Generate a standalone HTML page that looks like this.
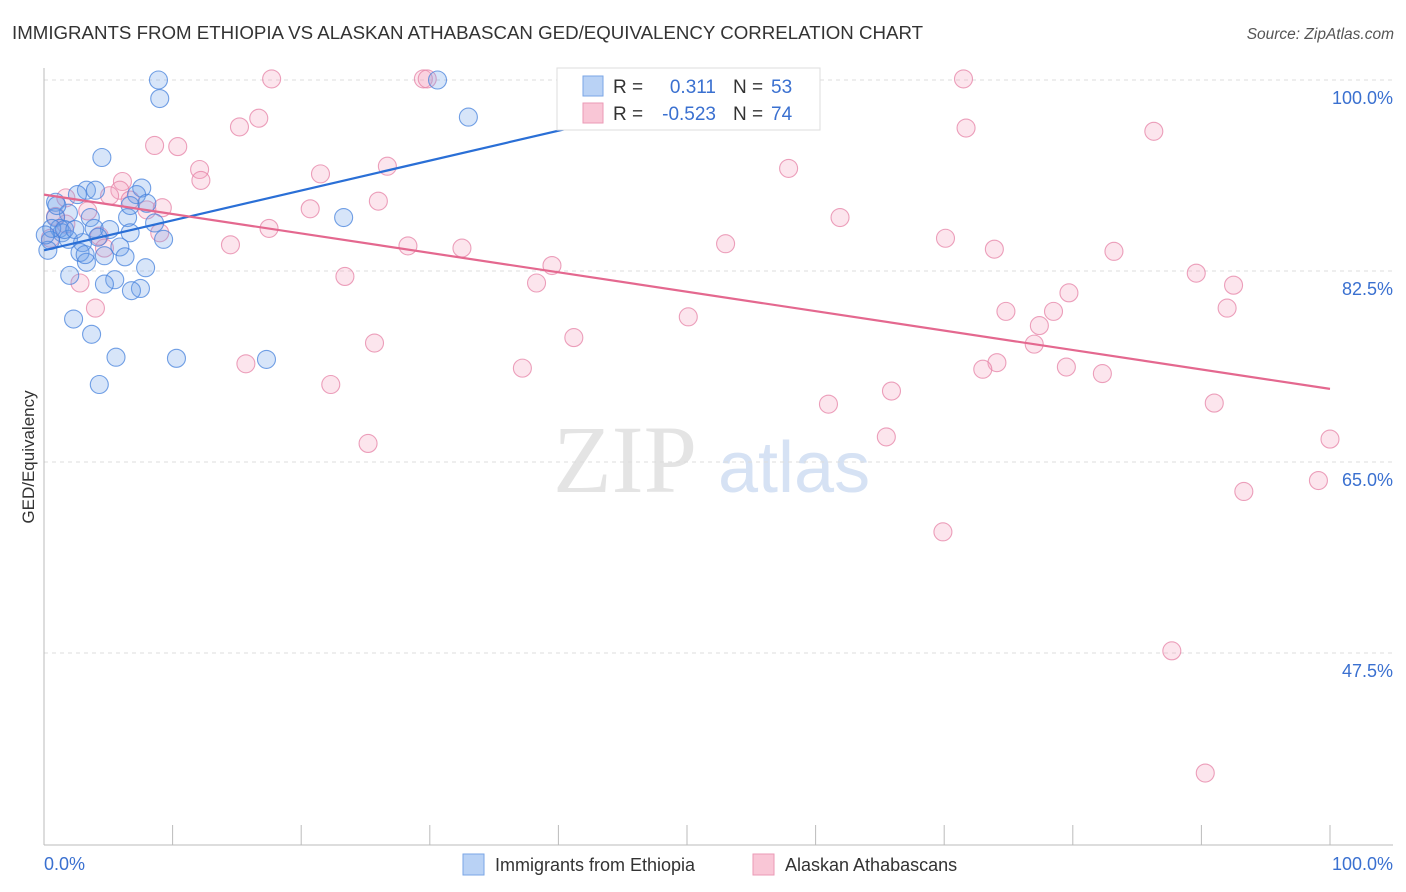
<!DOCTYPE html>
<html><head><meta charset="utf-8">
<style>
body{margin:0;background:#fff;font-family:"Liberation Sans",sans-serif;}
svg{display:block}
</style></head>
<body>
<svg id="chart" width="1406" height="892" xmlns="http://www.w3.org/2000/svg">
<text x="12" y="39" font-size="18.7" fill="#333">IMMIGRANTS FROM ETHIOPIA VS ALASKAN ATHABASCAN GED/EQUIVALENCY CORRELATION CHART</text>
<text x="1394" y="39" font-size="15.5" fill="#555" text-anchor="end" font-style="italic">Source: ZipAtlas.com</text>
<g>
<text x="553" y="492" font-family="Liberation Serif,serif" font-size="96" fill="#e4e4e4">ZIP</text>
<text x="718" y="492" font-size="72" fill="#d6e2f4">atlas</text>
</g>
<g id="grid"></g>
<g id="axes"></g>
<g id="pts"></g>
<g id="lines"></g>
<text transform="translate(34,457) rotate(-90)" font-size="17" fill="#333" text-anchor="middle">GED/Equivalency</text>
<g>
<rect x="557" y="68" width="263" height="62" fill="#fff" stroke="#ddd"/>
<rect x="583" y="76" width="20" height="20" fill="#b9d2f5" stroke="#7aa6e6"/>
<rect x="583" y="103" width="20" height="20" fill="#f9c6d6" stroke="#eb9ab6"/>
<text x="613" y="93" font-size="19" fill="#333">R =</text>
<text x="716" y="93" font-size="19" fill="#3a70d0" text-anchor="end">0.311</text>
<text x="733" y="93" font-size="19" fill="#333">N =</text>
<text x="771" y="93" font-size="19" fill="#3a70d0">53</text>
<text x="613" y="120" font-size="19" fill="#333">R =</text>
<text x="716" y="120" font-size="19" fill="#3a70d0" text-anchor="end">-0.523</text>
<text x="733" y="120" font-size="19" fill="#333">N =</text>
<text x="771" y="120" font-size="19" fill="#3a70d0">74</text>
</g>
<g>
<rect x="463" y="854" width="21" height="21" fill="#b9d2f5" stroke="#7aa6e6"/>
<text x="495" y="871" font-size="18" fill="#333">Immigrants from Ethiopia</text>
<rect x="753" y="854" width="21" height="21" fill="#f9c6d6" stroke="#eb9ab6"/>
<text x="785" y="871" font-size="18" fill="#333">Alaskan Athabascans</text>
</g>
</svg>
<script>
const yTicks=[100,82.5,65,47.5];
const yTickLabels=["100.0%","82.5%","65.0%","47.5%"];
const xTickLabels=["0.0%","100.0%"];
const bluePx=[[159,80],[437,80],[160,99],[469,117],[102,158],[87,190],[96,190],[142,188],[78,195],[136,195],[55,202],[147,203],[69,213],[90,217],[56,217],[128,217],[155,223],[344,218],[60,228],[94,228],[110,230],[130,233],[62,233],[69,239],[98,237],[163,239],[50,240],[83,243],[120,247],[80,252],[105,256],[125,257],[86,262],[145,268],[70,275],[115,280],[105,284],[140,289],[132,291],[74,319],[92,334],[116,357],[176,358],[266,359],[99,384],[48,250],[52,228],[64,230],[57,206],[75,230],[85,255],[45,235],[130,205]];
const pinkPx=[[272,79],[424,79],[427,79],[963,79],[259,118],[240,127],[966,128],[1154,131],[155,146],[178,147],[199,169],[388,166],[201,180],[321,174],[788,168],[123,182],[120,190],[66,198],[110,196],[147,210],[162,208],[310,209],[379,201],[840,218],[88,211],[66,224],[269,228],[160,233],[99,236],[230,245],[408,246],[462,248],[726,244],[946,238],[994,249],[1114,251],[104,248],[552,265],[345,277],[536,283],[1196,273],[1234,285],[80,283],[95,308],[1069,293],[1006,311],[1054,311],[1227,308],[688,317],[1039,326],[574,338],[374,343],[1034,344],[246,364],[997,363],[983,369],[1066,367],[523,368],[1102,374],[331,384],[892,391],[828,404],[1214,403],[886,437],[368,443],[1330,439],[1244,491],[1318,481],[943,532],[1172,651],[1205,773],[50,238],[56,216],[130,200]];
// data values derived from the picture
const blueX=bluePx.map(p=>+((p[0]-44)/12.86).toFixed(1));
const blueY=bluePx.map(p=>+(100-(p[1]-80)/191*17.5).toFixed(1));
const pinkX=pinkPx.map(p=>+((p[0]-44)/12.86).toFixed(1));
const pinkY=pinkPx.map(p=>+(100-(p[1]-80)/191*17.5).toFixed(1));
const blueTrend=[[0,84.4],[40.9,95.6]];
const pinkTrend=[[0,89.5],[100,71.7]];
const xs=v=>44+v*12.86, ys=v=>80+(100-v)/17.5*191;
const NS="http://www.w3.org/2000/svg";
function mk(tag,attrs,parent){const e=document.createElementNS(NS,tag);for(const k in attrs)e.setAttribute(k,attrs[k]);document.getElementById(parent).appendChild(e);return e;}
yTicks.forEach((t,i)=>{
 const g=mk('line',{x1:44,x2:1393,y1:ys(t),y2:ys(t),stroke:'#ddd','stroke-dasharray':'4,4'},'grid');
 
 
 const l=mk('text',{x:1393,y:ys(t)+24,'font-size':18,fill:'#3a70d0','text-anchor':'end'},'axes');
 l.textContent=yTickLabels[i];
 
 
});
mk('line',{x1:44,x2:44,y1:68,y2:845,stroke:'#bbb'},'axes');
mk('line',{x1:44,x2:1393,y1:845,y2:845,stroke:'#bbb'},'axes');
for(let i=0;i<=10;i++){const t=mk('line',{x1:xs(i*10),x2:xs(i*10),y1:825,y2:845,stroke:'#bbb'},'axes');}
[[0,'start',44],[1,'end',1393]].forEach(([i,a,x])=>{const l=mk('text',{x:x,y:870,'font-size':18,fill:'#3a70d0','text-anchor':a},'axes');l.textContent=xTickLabels[i];});
function dots(X,Y,fill,stroke,name){X.forEach((x,i)=>{const c=mk('circle',{cx:xs(x),cy:ys(Y[i]),r:9,fill:fill,stroke:stroke,'stroke-width':1.1},'pts');});}
dots(pinkX,pinkY,'rgba(244,160,190,0.28)','rgba(230,130,165,0.75)','athabascan-point');
dots(blueX,blueY,'rgba(110,160,235,0.28)','rgba(70,130,220,0.75)','ethiopia-point');
const bl=mk('line',{x1:xs(blueTrend[0][0]),y1:ys(blueTrend[0][1]),x2:xs(blueTrend[1][0]),y2:ys(blueTrend[1][1]),stroke:'#2a6fd6','stroke-width':2.2},'lines');


const pl=mk('line',{x1:xs(pinkTrend[0][0]),y1:ys(pinkTrend[0][1]),x2:xs(pinkTrend[1][0]),y2:ys(pinkTrend[1][1]),stroke:'#e4688f','stroke-width':2.2},'lines');


</script>
</body></html>
